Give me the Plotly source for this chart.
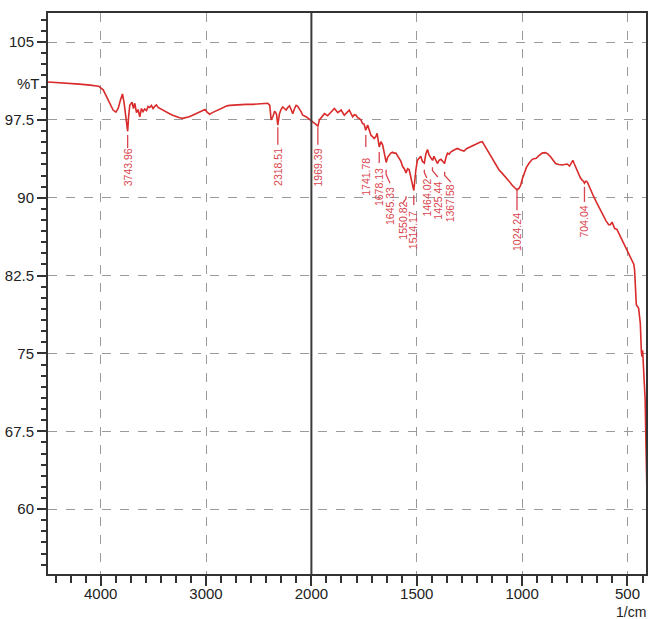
import numpy as np
import plotly.graph_objects as go

# FTIR spectrum: wavenumber (1/cm) and transmittance (%T)
wavenumber = [
    4500, 4400, 4300, 4200, 4100, 4020, 3976, 3944, 3913, 3882, 3856, 3834, 3813, 3793,
    3777, 3761, 3744, 3735, 3724, 3702, 3689, 3676, 3660, 3645, 3629, 3613, 3598, 3582,
    3565, 3550, 3534, 3518, 3503, 3487, 3471, 3455, 3439, 3408, 3376, 3346, 3316, 3283,
    3250, 3220, 3193, 3160, 3127, 3095, 3061, 3030, 3010, 2990, 2966, 2940, 2918, 2880,
    2840, 2800, 2776, 2730, 2682, 2620, 2559, 2500, 2450, 2414, 2395, 2382, 2366, 2350,
    2341, 2330, 2319, 2303, 2288, 2272, 2256, 2240, 2224, 2208, 2192, 2177, 2160, 2145,
    2130, 2114, 2098, 2082, 2066, 2050, 2035, 2019, 2005,
    1994, 1980, 1969, 1962, 1950, 1938, 1923, 1907, 1891, 1883, 1875, 1859, 1851, 1844,
    1832, 1820, 1812, 1804, 1796, 1788, 1780, 1773, 1765, 1757, 1750, 1742, 1733, 1725,
    1717, 1710, 1702, 1694, 1688, 1678, 1670, 1662, 1655, 1645, 1638, 1631, 1623, 1615,
    1607, 1599, 1590, 1583, 1575, 1567, 1559, 1551, 1543, 1536, 1528, 1520, 1514, 1504,
    1497, 1489, 1481, 1473, 1464, 1457, 1449, 1441, 1433, 1425, 1418, 1410, 1402, 1394,
    1385, 1376, 1368, 1361, 1354, 1346, 1339, 1323, 1307, 1292, 1276, 1262, 1252, 1240,
    1225, 1213, 1200, 1189, 1177, 1165, 1153, 1142, 1126, 1110, 1094, 1078, 1062, 1047,
    1035, 1024, 1015, 1007, 999, 991, 980, 968, 960, 952, 943, 933, 920, 905,
    889, 877, 865, 853, 841, 826, 810, 798, 786, 775, 767, 759, 753, 747,
    739, 731, 723, 715, 709, 704, 697, 690, 684, 672, 660, 648, 636, 625,
    613, 601, 589, 581, 573, 567, 561, 550, 542, 534, 522, 510, 494, 479,
    470, 466, 463, 458, 447, 439, 434, 431, 428, 424, 420, 416, 412, 408, 404,
]
transmittance = [
    101.15, 101.1, 101.05, 100.95, 100.85, 100.75, 100.4, 99.7, 99.1, 98.45, 98.25, 98.6, 99.4, 100.0,
    99.1, 98.0, 96.4, 97.8, 98.9, 99.2, 98.6, 99.1, 98.2, 98.5, 97.8, 98.6, 98.3, 98.55,
    98.4, 98.8, 98.7, 98.9, 98.6, 98.8, 98.95, 98.7, 98.6, 98.45, 98.25, 98.1, 97.95, 97.8,
    97.7, 97.65, 97.7, 97.8, 97.95, 98.1, 98.25, 98.4, 98.5, 98.25, 98.05, 98.2, 98.3, 98.55,
    98.7, 98.85, 98.9, 98.95, 99.0, 99.0, 99.0, 99.05, 99.05, 99.1, 98.9, 97.5, 97.8, 98.3,
    98.25, 98.0, 97.0, 98.1, 98.5, 98.75, 98.6, 98.45, 98.7, 98.85, 98.5, 98.1, 98.6, 98.9,
    98.8, 98.6, 98.3, 97.95, 97.9, 97.8, 97.7, 97.55, 97.4,
    97.3, 97.1, 96.9, 97.5, 97.8, 98.1, 97.9, 98.3, 98.6, 98.4, 98.2, 98.45, 98.2, 97.95,
    98.2, 98.45, 98.1, 97.8, 98.0, 97.95, 97.7, 97.65, 97.5, 97.15, 97.1, 96.5, 97.0, 96.5,
    96.0, 95.9, 95.7, 95.9, 96.2, 94.9, 95.4, 95.1, 94.3, 93.4, 93.9, 94.1, 94.3, 94.4,
    94.3, 94.3, 94.0, 93.8, 93.5, 93.0, 92.8, 92.4, 92.8, 92.7, 92.0, 91.3, 90.7, 92.7,
    93.6, 93.8, 94.0, 93.5, 93.35, 94.2, 94.65, 94.1, 93.8, 93.6, 94.0, 93.7, 93.3, 93.6,
    93.7, 93.5, 93.3, 93.9, 94.3, 94.2, 94.4, 94.6, 94.75, 94.6, 94.5, 94.75, 94.85, 94.9,
    95.1, 95.25, 95.35, 95.4, 95.0, 94.6, 94.2, 93.8, 93.25, 92.7, 92.35, 92.0, 91.6, 91.2,
    90.95, 90.75, 90.9, 91.2, 91.8, 92.35, 92.9, 93.3, 93.5, 93.7, 93.75, 93.8, 94.05, 94.3,
    94.35, 94.2, 93.95, 93.6, 93.3, 93.2, 93.15, 93.2, 93.25, 93.05, 93.3, 93.6, 93.3, 93.0,
    92.6, 92.2, 91.9, 91.7, 91.6, 91.4, 91.6, 91.5, 91.2, 90.6, 90.1, 89.6, 89.1, 88.7,
    88.2, 87.75, 87.4, 87.4, 87.65, 87.3, 87.05, 86.95, 86.6, 86.25, 85.8, 85.3, 84.6, 84.0,
    83.6, 83.0, 81.4, 79.7, 79.35, 77.9, 75.2, 74.7, 75.3, 74.0, 72.2, 70.5, 66.0, 62.0, 58.0,
]

# Peak picks
peak_wavenumbers = [3743.96, 2318.51, 1969.39, 1741.78, 1678.13, 1645.33, 1550.82,
                    1514.17, 1464.02, 1425.44, 1367.58, 1024.24, 704.04]

# Axis ticks
x_tick_values = [4000, 3000, 2000, 1500, 1000, 500]
y_tick_values = [60, 67.5, 75, 82.5, 90, 97.5, 105]

# Peak label placement: (leader top %T, leader bottom %T, text centre %T, text wavenumber)
label_layout = [
    (96.05, 94.8, 92.9, None),
    (96.8, 95.1, 92.95, None),
    (96.8, 95.1, 92.9, None),
    (96.05, 94.9, 92.0, None),
    (94.4, 93.35, 91.05, None),
    (92.7, 91.4, 89.2, 1627),
    (90.15, 89.5, 87.8, 1565),
    (90.25, 89.3, 86.85, None),
    (92.7, 91.9, 90.0, 1452),
    (92.95, 92.0, 89.7, 1400),
    (92.5, 91.5, 89.45, 1338),
    (90.95, 88.8, 86.7, None),
    (91.05, 89.6, 87.75, None),
]


def to_axis(wn):
    """Split scale: 4000-2000 1/cm is drawn at half the scale of 2000-400 1/cm."""
    wn = np.asarray(wn, dtype=float)
    return np.where(wn > 2000, 2000 + (wn - 2000) / 2.0, wn)


CURVE = "#d92b2b"
LABEL = "#d9434d"
FONT = "Liberation Sans, Arial, sans-serif"

fig = go.Figure()

fig.add_trace(go.Scatter(
    x=to_axis(wavenumber), y=transmittance, mode="lines",
    line=dict(color=CURVE, width=1.6), hoverinfo="skip", showlegend=False,
))

# Leader lines for peak labels
lx, ly = [], []
for wn, (top, bottom, centre, text_wn) in zip(peak_wavenumbers, label_layout):
    tx = wn if text_wn is None else text_wn
    mid = top - (top - bottom) * 0.35
    lx += [float(to_axis(wn)), float(to_axis(wn)), float(to_axis(tx)), None]
    ly += [top, mid, bottom, None]
fig.add_trace(go.Scatter(
    x=lx, y=ly, mode="lines", line=dict(color=LABEL, width=1.3),
    hoverinfo="skip", showlegend=False,
))

for wn, (top, bottom, centre, text_wn) in zip(peak_wavenumbers, label_layout):
    tx = wn if text_wn is None else text_wn
    fig.add_annotation(
        x=float(to_axis(tx)), y=centre, text=f"{wn:.2f}", textangle=-90,
        showarrow=False, xanchor="center", yanchor="middle",
        font=dict(family=FONT, size=10.5, color=LABEL),
    )

# Scale break marker at 2000 1/cm
fig.add_shape(type="line", xref="x", yref="paper", x0=2000, x1=2000, y0=0, y1=1,
              line=dict(color="#3a3a3a", width=2), layer="above")

fig.add_annotation(xref="paper", yref="y", x=0, y=101.0, xshift=-6, text="%T",
                   showarrow=False, xanchor="right", yanchor="middle",
                   font=dict(family=FONT, size=15, color="#222"))
fig.add_annotation(xref="paper", yref="paper", x=1, y=-0.068, xshift=2, text="1/cm",
                   showarrow=False, xanchor="right", yanchor="middle",
                   font=dict(family=FONT, size=14, color="#222"))

fig.update_xaxes(
    range=[3250, 412],
    tickmode="array", tickvals=to_axis(x_tick_values).tolist(),
    ticktext=[str(v) for v in x_tick_values],
    ticks="outside", ticklen=10, tickwidth=1.5, tickcolor="#333",
    ticklabelstandoff=-5,
    showline=True, mirror=True, linecolor="#333", linewidth=2,
    showgrid=True, gridcolor="#9a9a9a", gridwidth=1.3, griddash="dash",
    zeroline=False,
    tickfont=dict(family=FONT, size=15, color="#222"),
    minor=dict(ticks="outside", ticklen=7, tickwidth=1.5, tickcolor="#333",
               dtick=500 / 7, tick0=500, showgrid=False),
)
fig.update_yaxes(
    range=[53.75, 107.8],
    tickmode="array", tickvals=y_tick_values,
    ticktext=[f"{v:g}" for v in y_tick_values],
    ticks="outside", ticklen=9, tickwidth=1.5, tickcolor="#333",
    showline=True, mirror=True, linecolor="#333", linewidth=2,
    showgrid=True, gridcolor="#9a9a9a", gridwidth=1.3, griddash="dash",
    zeroline=False,
    tickfont=dict(family=FONT, size=15, color="#222"),
    minor=dict(ticks="outside", ticklen=5, tickwidth=1.5, tickcolor="#333",
               dtick=7.5 / 7, tick0=60, showgrid=False),
)

fig.update_layout(
    width=650, height=619,
    margin=dict(l=48, r=2, t=13, b=45),
    paper_bgcolor="white", plot_bgcolor="white",
    showlegend=False,
)

fig.write_html("out.html")
